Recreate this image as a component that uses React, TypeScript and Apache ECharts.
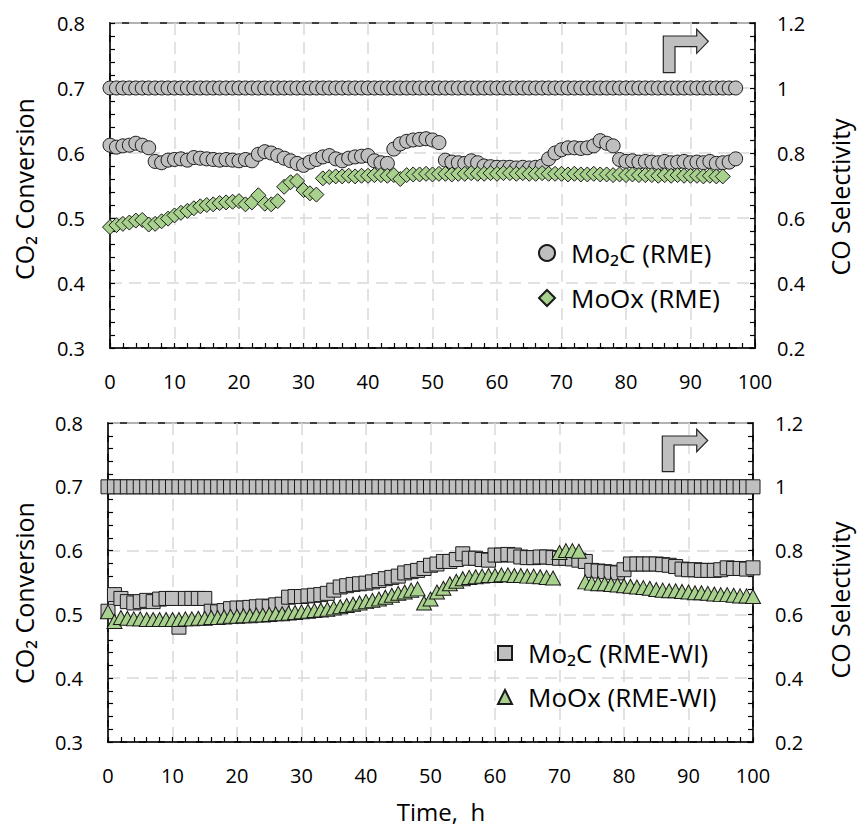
import React, { useEffect, useRef } from 'react';
import * as echarts from 'echarts';

const FONT = '"Open Sans", "Noto Sans", sans-serif';
const GRAY = '#BFBFBF';
const GREEN = '#A9D18E';

// Time step between measurements (h); index i -> i hours
const STEP_H = 1;

// ---------- Top panel (RME) ----------
const selMo2C_RME = [
  1, 1, 1, 1, 1, 1, 1, 1, 1, 1, 1, 1, 1, 1, 1, 1, 1, 1, 1, 1,
  1, 1, 1, 1, 1, 1, 1, 1, 1, 1, 1, 1, 1, 1, 1, 1, 1, 1, 1, 1,
  1, 1, 1, 1, 1, 1, 1, 1, 1, 1, 1, 1, 1, 1, 1, 1, 1, 1, 1, 1,
  1, 1, 1, 1, 1, 1, 1, 1, 1, 1, 1, 1, 1, 1, 1, 1, 1, 1, 1, 1,
  1, 1, 1, 1, 1, 1, 1, 1, 1, 1, 1, 1, 1, 1, 1, 1, 1, 1,
];
const convMo2C_RME = [
  0.612, 0.609, 0.611, 0.612, 0.615, 0.612, 0.608, 0.587, 0.585, 0.589,
  0.590, 0.591, 0.589, 0.593, 0.592, 0.591, 0.590, 0.589, 0.590, 0.589,
  0.588, 0.590, 0.588, 0.598, 0.602, 0.600, 0.596, 0.592, 0.588, 0.584,
  0.581, 0.586, 0.590, 0.594, 0.596, 0.591, 0.588, 0.592, 0.594, 0.595,
  0.596, 0.588, 0.585, 0.584, 0.606, 0.614, 0.618, 0.620, 0.621, 0.622,
  0.620, 0.616, 0.589, 0.586, 0.585, 0.584, 0.588, 0.585, 0.580, 0.579,
  0.578, 0.578, 0.578, 0.577, 0.578, 0.577, 0.578, 0.580, 0.591, 0.600,
  0.605, 0.608, 0.608, 0.607, 0.608, 0.611, 0.619, 0.615, 0.611, 0.590,
  0.587, 0.588, 0.586, 0.587, 0.586, 0.585, 0.587, 0.585, 0.586, 0.587,
  0.585, 0.586, 0.585, 0.587, 0.584, 0.585, 0.586, 0.591,
];
const convMoOx_RME = [
  0.486, 0.489, 0.491, 0.493, 0.496, 0.497, 0.490, 0.491, 0.495, 0.499,
  0.504, 0.508, 0.511, 0.515, 0.518, 0.520, 0.521, 0.523, 0.524, 0.525,
  0.526, 0.521, 0.524, 0.535, 0.522, 0.521, 0.526, 0.548, 0.555, 0.557,
  0.543, 0.538, 0.536, 0.561, 0.563, 0.564, 0.564, 0.565, 0.564, 0.565,
  0.565, 0.566, 0.566, 0.565, 0.566, 0.560, 0.566, 0.567, 0.567, 0.568,
  0.567, 0.568, 0.568, 0.567, 0.568, 0.568, 0.569, 0.568, 0.568, 0.569,
  0.568, 0.569, 0.569, 0.568, 0.569, 0.568, 0.568, 0.569, 0.568, 0.568,
  0.568, 0.567, 0.568, 0.567, 0.567, 0.568, 0.567, 0.567, 0.566, 0.567,
  0.566, 0.567, 0.566, 0.566, 0.566, 0.565, 0.566, 0.565, 0.566, 0.565,
  0.565, 0.565, 0.564, 0.565, 0.564, 0.564,
];

// ---------- Bottom panel (RME-WI) ----------
const selMo2C_WI = [
  1, 1, 1, 1, 1, 1, 1, 1, 1, 1, 1, 1, 1, 1, 1, 1, 1, 1, 1, 1,
  1, 1, 1, 1, 1, 1, 1, 1, 1, 1, 1, 1, 1, 1, 1, 1, 1, 1, 1, 1,
  1, 1, 1, 1, 1, 1, 1, 1, 1, 1, 1, 1, 1, 1, 1, 1, 1, 1, 1, 1,
  1, 1, 1, 1, 1, 1, 1, 1, 1, 1, 1, 1, 1, 1, 1, 1, 1, 1, 1, 1,
  1, 1, 1, 1, 1, 1, 1, 1, 1, 1, 1, 1, 1, 1, 1, 1, 1, 1, 1, 1,
  1,
];
const convMo2C_WI = [
  0.505, 0.531, 0.525, 0.520, 0.518, 0.520, 0.522, 0.520, 0.524, 0.525,
  0.525, 0.480, 0.525, 0.525, 0.525, 0.525, 0.505, 0.504, 0.506, 0.509,
  0.510, 0.510, 0.511, 0.512, 0.513, 0.512, 0.515, 0.516, 0.527, 0.528,
  0.528, 0.529, 0.530, 0.531, 0.533, 0.538, 0.543, 0.545, 0.547, 0.548,
  0.549, 0.551, 0.553, 0.556, 0.558, 0.560, 0.565, 0.567, 0.569, 0.572,
  0.577, 0.579, 0.583, 0.583, 0.586, 0.595, 0.588, 0.588, 0.586, 0.585,
  0.593, 0.593, 0.594, 0.593, 0.590, 0.589, 0.589, 0.590, 0.590, 0.589,
  0.588, 0.588, 0.587, 0.585, 0.583, 0.569, 0.568, 0.567, 0.566, 0.565,
  0.570, 0.579, 0.579, 0.579, 0.579, 0.579, 0.578, 0.577, 0.575, 0.571,
  0.570, 0.570, 0.569, 0.569, 0.569, 0.570, 0.573, 0.572, 0.572, 0.571,
  0.573,
];
const convMoOx_WI = [
  0.504, 0.489, 0.495, 0.494, 0.493, 0.493, 0.492, 0.492, 0.492, 0.492,
  0.492, 0.492, 0.493, 0.493, 0.494, 0.494, 0.495, 0.495, 0.496, 0.497,
  0.497, 0.498, 0.498, 0.499, 0.499, 0.500, 0.501, 0.501, 0.502, 0.503,
  0.504, 0.505, 0.506, 0.507, 0.508, 0.510, 0.512, 0.514, 0.516, 0.518,
  0.520, 0.522, 0.524, 0.527, 0.530, 0.533, 0.535, 0.538, 0.540, 0.518,
  0.524, 0.535, 0.541, 0.548, 0.552, 0.556, 0.558, 0.559, 0.560, 0.561,
  0.561, 0.562, 0.562, 0.561, 0.561, 0.560, 0.560, 0.559, 0.558, 0.557,
  0.597, 0.600, 0.600, 0.599, 0.551, 0.549, 0.548, 0.548, 0.547, 0.546,
  0.545, 0.544, 0.543, 0.542, 0.541, 0.539, 0.538, 0.537, 0.537, 0.536,
  0.535, 0.534, 0.534, 0.533, 0.532, 0.531, 0.531, 0.530, 0.529, 0.529,
  0.528,
];

const NAME_MO2C_RME = 'Mo₂C (RME)';
const NAME_MOOX_RME = 'MoOx (RME)';
const NAME_MO2C_WI = 'Mo₂C (RME-WI)';
const NAME_MOOX_WI = 'MoOx (RME-WI)';
const X_TITLE = 'Time,  h';
const Y_LEFT_TITLE = 'CO₂ Conversion';
const Y_RIGHT_TITLE = 'CO Selectivity';

const toPairs = (vals: number[]) => vals.map((v, i) => [i * STEP_H, v]);

const fmt = (v: number) => String(Math.round(v * 10) / 10);

const GRID_LINE = { show: true, lineStyle: { color: '#D9D9D9', width: 1.5, type: [12, 7] as any } };

function xAxis(gridIndex: number) {
  return {
    type: 'value', gridIndex, min: 0, max: 100, interval: 10,
    axisLine: { show: true, lineStyle: { color: '#000', width: 1.5 } },
    axisTick: { show: true, inside: true, length: 5, lineStyle: { color: '#000', width: 1.2 } },
    minorTick: { show: true, splitNumber: 5, length: 5, lineStyle: { color: '#000', width: 1.2 } },
    splitLine: GRID_LINE,
    axisLabel: { fontSize: 20, color: '#000', fontFamily: FONT, margin: 23 },
  };
}
function yLeft(gridIndex: number) {
  return {
    type: 'value', gridIndex, min: 0.3, max: 0.8, interval: 0.1, position: 'left',
    axisLine: { show: true, lineStyle: { color: '#000', width: 1.5 } },
    axisTick: { show: true, inside: true, length: 5, lineStyle: { color: '#000', width: 1.2 } },
    minorTick: { show: true, splitNumber: 5, length: 5, lineStyle: { color: '#000', width: 1.2 } },
    splitLine: GRID_LINE,
    axisLabel: { fontSize: 20, color: '#000', fontFamily: FONT, margin: 25, formatter: fmt },
  };
}
function yRight(gridIndex: number) {
  return {
    type: 'value', gridIndex, min: 0.2, max: 1.2, interval: 0.2, position: 'right',
    axisLine: { show: true, lineStyle: { color: '#000', width: 1.5 } },
    axisTick: { show: true, inside: true, length: 5, lineStyle: { color: '#000', width: 1.2 } },
    minorTick: { show: true, splitNumber: 5, length: 5, lineStyle: { color: '#000', width: 1.2 } },
    splitLine: { show: false },
    axisLabel: { fontSize: 20, color: '#000', fontFamily: FONT, margin: 22, formatter: fmt },
  };
}

function scatter(name: string, vals: number[], xi: number, yi: number, symbol: string, size: any, color: string) {
  return {
    type: 'scatter', name, data: toPairs(vals), xAxisIndex: xi, yAxisIndex: yi,
    symbol, symbolSize: size,
    itemStyle: { color, borderColor: '#1a1a1a', borderWidth: 1, opacity: 1 },
    emphasis: { disabled: true }, silent: true,
  };
}

function arrow(pts: number[][]) {
  return {
    type: 'polygon', shape: { points: pts },
    style: { fill: GRAY, stroke: '#262626', lineWidth: 1.2 }, z: 100,
  };
}

function vText(text: string, x: number, y: number) {
  return {
    type: 'text', x, y, rotation: Math.PI / 2,
    style: { text, fontSize: 25, fontFamily: FONT, fill: '#000', align: 'center', verticalAlign: 'middle' },
    z: 100,
  };
}

export default function App() {
  const ref = useRef<HTMLDivElement>(null);
  useEffect(() => {
    if (!ref.current) return;
    const chart = echarts.init(ref.current, undefined, { renderer: 'svg' });
    const legendText = { fontSize: 26, lineHeight: 30, fontFamily: FONT, color: '#000', padding: [0, 0, 0, 11] };
    chart.setOption({
      animation: false,
      backgroundColor: '#fff',
      grid: [
        { left: 110, right: 102, top: 23, height: 325, show: true, borderColor: '#000', borderWidth: 1.5, backgroundColor: 'transparent' },
        { left: 108, right: 104, top: 423, height: 319, show: true, borderColor: '#000', borderWidth: 1.5, backgroundColor: 'transparent' },
      ],
      xAxis: [xAxis(0), xAxis(1)],
      yAxis: [yLeft(0), yRight(0), yLeft(1), yRight(1)],
      legend: [
        {
          data: [NAME_MO2C_RME, NAME_MOOX_RME], orient: 'vertical', left: 533, top: 233,
          itemWidth: 16, itemHeight: 16, itemGap: 15, textStyle: legendText, selectedMode: false,
        },
        {
          data: [NAME_MO2C_WI, NAME_MOOX_WI], orient: 'vertical', left: 492, top: 633,
          itemWidth: 14, itemHeight: 14, itemGap: 14, textStyle: legendText, selectedMode: false,
        },
      ],
      series: [
        scatter(NAME_MO2C_RME, selMo2C_RME, 0, 1, 'circle', 14, GRAY),
        scatter(NAME_MO2C_RME, convMo2C_RME, 0, 0, 'circle', 14, GRAY),
        scatter(NAME_MOOX_RME, convMoOx_RME, 0, 0, 'diamond', 15, GREEN),
        scatter(NAME_MO2C_WI, selMo2C_WI, 1, 3, 'rect', 14, GRAY),
        scatter(NAME_MO2C_WI, convMo2C_WI, 1, 2, 'rect', 14, GRAY),
        scatter(NAME_MOOX_WI, convMoOx_WI, 1, 2, 'triangle', [15, 14], GREEN),
      ],
      graphic: [
        arrow([[663.3, 72.7], [663.3, 36], [696.7, 36], [696.7, 29.3], [708.3, 41.3], [696.7, 53.3], [696.7, 46.7], [675, 46.7], [675, 72.7]]),
        arrow([[662.3, 471.7], [662.3, 436], [696.7, 436], [696.7, 429.3], [707.7, 440.5], [696.7, 451.7], [696.7, 445], [674, 445], [674, 471.7]]),
        vText(Y_LEFT_TITLE, 24, 189),
        vText(Y_RIGHT_TITLE, 840, 197),
        vText(Y_LEFT_TITLE, 24, 593),
        vText(Y_RIGHT_TITLE, 840, 600),
        {
          type: 'text', x: 441, y: 811,
          style: { text: X_TITLE, fontSize: 24, lineHeight: 24, fontFamily: FONT, fill: '#000', align: 'center', verticalAlign: 'middle' },
        },
      ],
    });
    return () => chart.dispose();
  }, []);
  return <div ref={ref} style={{ position: 'fixed', left: 0, top: 0, width: 857, height: 829 }} />;
}
